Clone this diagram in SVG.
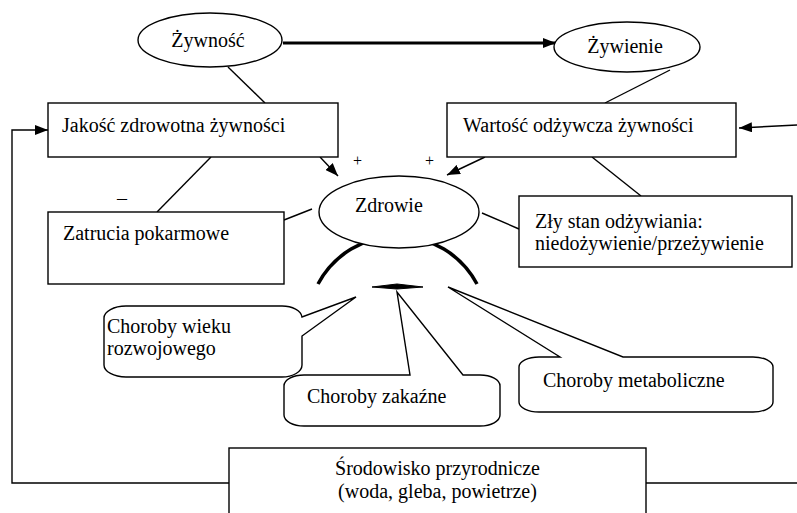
<svg xmlns="http://www.w3.org/2000/svg" width="797" height="513" viewBox="0 0 797 513" font-family="'Liberation Serif', 'Times New Roman', 'DejaVu Serif', serif" font-size="20">
<style>
  text { fill: #000; }
  .box { fill: #fff; stroke: #000; stroke-width: 1.4; }
  .ln { fill: none; stroke: #000; stroke-width: 1.4; }
  .thick { fill: none; stroke: #000; stroke-width: 3; }
  .mid { text-anchor: middle; }
  .sign { font-size: 16px; }
</style>
<defs>
  <marker id="arr" markerUnits="userSpaceOnUse" markerWidth="13" markerHeight="10" refX="13" refY="5" orient="auto">
    <path d="M0,0 L13,5 L0,10 Z" fill="#000"/>
  </marker>
</defs>

<g id="arc">
  <path d="M318,284 A90,90 0 0 1 477,284" fill="none" stroke="#000" stroke-width="3.5"/>
  <path d="M372,287 L397,284 L423,287 L397,289 Z" fill="#000" stroke="#000" stroke-width="1"/>
</g>

<g id="connectors">
  <line class="thick" x1="283" y1="43" x2="556" y2="43" marker-end="url(#arr)"/>
  <line class="ln" x1="228" y1="67" x2="265" y2="103"/>
  <line class="ln" x1="670" y1="70" x2="605" y2="103"/>
  <line class="ln" x1="320" y1="157" x2="338" y2="176" marker-end="url(#arr)"/>
  <line class="ln" x1="485" y1="157" x2="447" y2="175" marker-end="url(#arr)"/>
  <line class="ln" x1="211" y1="157" x2="157" y2="212"/>
  <line class="ln" x1="284" y1="220" x2="312" y2="209"/>
  <line class="ln" x1="592" y1="157" x2="641" y2="196"/>
  <line class="ln" x1="482" y1="213" x2="519" y2="229"/>
  <polyline class="ln" points="229,483 12,483 12,130 48,130" marker-end="url(#arr)"/>
  <line class="ln" x1="646" y1="483" x2="797" y2="483"/>
  <line class="ln" x1="797" y1="125" x2="739" y2="128" marker-end="url(#arr)"/>
  <text class="sign" x="353" y="166">+</text>
  <text class="sign" x="425" y="166">+</text>
  <text x="117" y="205">–</text>
</g>

<g id="zywnosc">
  <ellipse class="box" cx="210" cy="40" rx="72" ry="27"/>
  <text class="mid" x="208" y="47">Żywność</text>
</g>

<g id="zywienie">
  <ellipse class="box" cx="627" cy="47" rx="73" ry="25"/>
  <text class="mid" x="625" y="53">Żywienie</text>
</g>

<g id="jakosc">
  <rect class="box" x="48" y="103" width="290" height="54"/>
  <text x="62" y="132">Jakość zdrowotna żywności</text>
</g>

<g id="wartosc">
  <rect class="box" x="447" y="103" width="289" height="54"/>
  <text x="463" y="132">Wartość odżywcza żywności</text>
</g>

<g id="zdrowie">
  <ellipse class="box" cx="399" cy="212" rx="80" ry="36"/>
  <text x="355" y="212">Zdrowie</text>
</g>

<g id="zatrucia">
  <rect class="box" x="48" y="212" width="236" height="72"/>
  <text x="63" y="240">Zatrucia pokarmowe</text>
</g>

<g id="zly-stan">
  <rect class="box" x="519" y="196" width="273" height="71"/>
  <text x="535" y="228">Zły stan odżywiania:</text>
  <text x="535" y="250">niedożywienie/przeżywienie</text>
</g>

<g id="choroby-wieku">
  <path class="box" d="M126,306 H282 A20,12 0 0 1 302,317 L356,297 L302,336 V365 A20,12 0 0 1 282,377 H126 A22,12 0 0 1 104,365 V318 A22,12 0 0 1 126,306 Z"/>
  <text x="107" y="333">Choroby wieku</text>
  <text x="107" y="355">rozwojowego</text>
</g>

<g id="choroby-zakazne">
  <path class="box" d="M304,375 H410 L397,292 L463,375 H480 A20,11 0 0 1 500,386 V415 A20,11 0 0 1 480,426 H304 A20,11 0 0 1 284,415 V386 A20,11 0 0 1 304,375 Z"/>
  <text x="307" y="403">Choroby zakaźne</text>
</g>

<g id="choroby-metaboliczne">
  <path class="box" d="M539,357 H560 L448,287 L623,357 H753 A20,10 0 0 1 773,367 V402 A20,10 0 0 1 753,412 H539 A20,10 0 0 1 519,402 V367 A20,10 0 0 1 539,357 Z"/>
  <text x="543" y="387">Choroby metaboliczne</text>
</g>

<g id="srodowisko">
  <rect class="box" x="229" y="448" width="417" height="70"/>
  <text class="mid" x="437.5" y="475">Środowisko przyrodnicze</text>
  <text class="mid" x="437.5" y="498">(woda, gleba, powietrze)</text>
</g>
</svg>
